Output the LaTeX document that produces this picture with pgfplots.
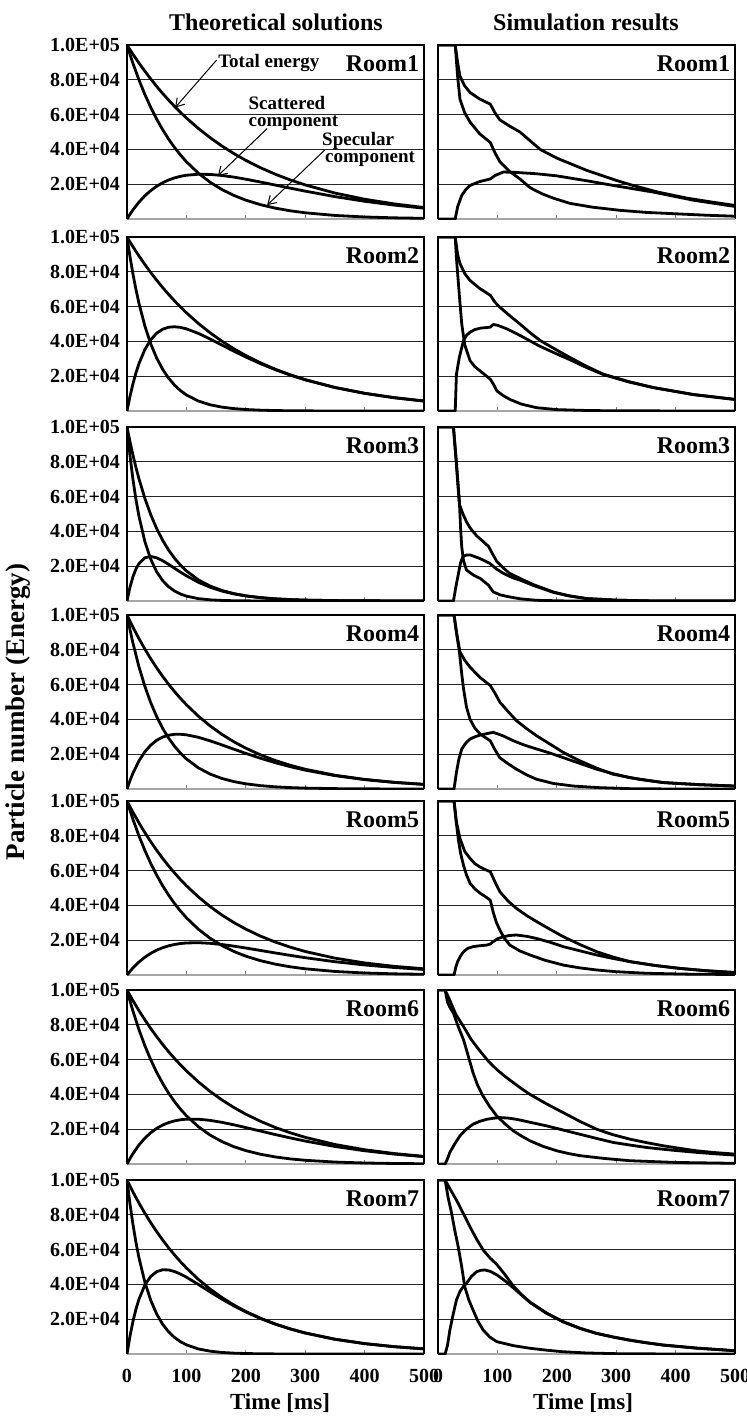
\documentclass[border=0pt]{standalone}
\usepackage{fontspec}
\setmainfont{Liberation Serif}
\usepackage{pgfplots}
\pgfplotsset{compat=1.18}
\usepackage{pgfplotstable}
\usetikzlibrary{arrows.meta}

% Theoretical solutions: t, total, specular, scattered
\pgfplotstableread{
t tot spe sca
0 100000 100000 0
5 97320 94600 2720
10 94710 89480 5230
20 89700 80070 9630
30 84960 71650 13310
40 80460 64120 16340
50 76210 57380 18830
60 72170 51340 20830
70 68360 45940 22420
80 64740 41110 23630
90 61320 36790 24530
100 58070 32920 25150
120 52090 26360 25730
140 46730 21110 25620
160 41910 16900 25010
180 37600 13530 24070
200 33720 10840 22880
225 29440 8210 21230
250 25700 6220 19480
275 22440 4710 17730
300 19590 3570 16020
350 14920 2050 12870
400 11370 1170 10200
450 8670 670 8000
500 6600 390 6210
}\thA
\pgfplotstableread{
t tot spe sca
0 100000 100000 0
5 97180 88780 8400
10 94450 78810 15640
15 91790 69970 21820
20 89200 62110 27090
30 84250 48950 35300
40 79570 38580 40990
50 75150 30410 44740
60 70970 23970 47000
70 67030 18890 48140
80 63310 14890 48420
90 59790 11730 48060
100 56470 9250 47220
120 50370 5740 44630
140 44930 3570 41360
160 40080 2220 37860
180 35750 1380 34370
200 31890 860 31030
225 27650 470 27180
250 23970 260 23710
275 20780 140 20640
300 18010 80 17930
350 13530 20 13510
400 10170 10 10160
450 7640 0 7640
500 5740 0 5740
}\thB
\pgfplotstableread{
t tot spe sca
0 100000 100000 0
5 91600 83650 7950
10 83910 69970 13940
15 76860 58520 18340
20 70410 48950 21460
30 59080 34250 24830
40 49570 23970 25600
50 41590 16770 24820
60 34900 11730 23170
70 29290 8210 21080
80 24570 5740 18830
90 20620 4020 16600
100 17300 2810 14490
120 12180 1380 10800
140 8580 670 7910
160 6040 330 5710
180 4250 160 4090
200 2990 80 2910
225 1930 30 1900
250 1250 10 1240
275 800 0 800
300 520 0 520
350 220 0 220
400 90 0 90
450 40 0 40
500 20 0 20
}\thC
\pgfplotstableread{
t tot spe sca
0 100000 100000 0
5 96440 91600 4840
10 93010 83910 9100
20 86510 70410 16100
30 80460 59080 21380
40 74830 49570 25260
50 69600 41590 28010
60 64740 34900 29840
70 60210 29290 30920
80 56010 24570 31440
90 52090 20620 31470
100 48450 17300 31150
120 41910 12180 29730
140 36260 8580 27680
160 31360 6040 25320
180 27130 4250 22880
200 23470 2990 20480
225 19590 1930 17660
250 16340 1250 15090
275 13630 800 12830
300 11370 520 10850
350 7920 220 7700
400 5510 90 5420
450 3840 40 3800
500 2670 20 2650
}\thD
\pgfplotstableread{
t tot spe sca
0 100000 100000 0
5 96720 94600 2120
10 93550 89480 4070
20 87520 80070 7450
30 81870 71650 10220
40 76590 64120 12470
50 71650 57380 14270
60 67030 51340 15690
70 62710 45940 16770
80 58660 41110 17550
90 54880 36790 18090
100 51340 32920 18420
120 44930 26360 18570
140 39320 21110 18210
160 34420 16900 17520
180 30120 13530 16590
200 26360 10840 15520
225 22310 8210 14100
250 18890 6220 12670
275 15990 4710 11280
300 13530 3570 9960
350 9700 2050 7650
400 6950 1170 5780
450 4980 670 4310
500 3570 390 3180
}\thE
\pgfplotstableread{
t tot spe sca
0 100000 100000 0
5 96920 93790 3130
10 93940 87970 5970
20 88250 77380 10870
30 82900 68070 14830
40 77880 59880 18000
50 73160 52680 20480
60 68730 46340 22390
70 64560 40760 23800
80 60650 35860 24790
90 56980 31540 25440
100 53530 27750 25780
120 47240 21470 25770
140 41690 16610 25080
160 36790 12860 23930
180 32470 9950 22520
200 28650 7700 20950
225 24510 5590 18920
250 20960 4050 16910
275 17930 2940 14990
300 15340 2140 13200
350 11220 1130 10090
400 8210 590 7620
450 6010 310 5700
500 4390 160 4230
}\thF
\pgfplotstableread{
t tot spe sca
0 100000 100000 0
5 96540 86320 10220
10 93200 74520 18680
15 89980 64330 25650
20 86860 55530 31330
30 80960 41380 39580
40 75450 30830 44620
50 70320 22980 47340
60 65540 17120 48420
70 61080 12760 48320
80 56930 9510 47420
90 53060 7090 45970
100 49450 5280 44170
120 42950 2930 40020
140 37310 1630 35680
160 32410 900 31510
180 28150 500 27650
200 24450 280 24170
225 20500 130 20370
250 17200 60 17140
275 14420 30 14390
300 12090 10 12080
350 8500 0 8500
400 5980 0 5980
450 4210 0 4210
500 2960 0 2960
}\thG

\pgfplotsset{
  panel/.style={
    scale only axis, width=148.5pt, height=87pt, anchor=north west,
    xmin=0, xmax=500, ymin=0, ymax=100000,
    axis line style={draw=none},
    clip mode=individual,
    xtick={0,100,200,300,400,500}, xtick pos=bottom, xtick align=inside,
    major tick length=2pt,
    x tick style={gray, line width=0.6pt},
    ytick={20000,40000,60000,80000,100000}, ytick pos=left,
    y tick style={draw=none},
    ymajorgrids, grid style={black!85, line width=0.45pt},
    xticklabels={}, yticklabels={},
    tick label style={font=\fontsize{10}{12}\selectfont\bfseries},
    scaled y ticks=false,
    every axis plot post/.append style={black,line width=1.4pt,line join=round,mark=none},
  },
  leftcol/.style={yticklabels={2.0E+04,4.0E+04,6.0E+04,8.0E+04,1.0E+05}},
  bottomrow/.style={xticklabels={0,100,200,300,400,500},
    xticklabel style={anchor=center, yshift=-11pt}},
}
\newcommand\frm{%
  \draw[black,line width=1.2pt] (rel axis cs:0,0)--(rel axis cs:0,1)--(rel axis cs:1,1)--(rel axis cs:1,0);
  \draw[gray!70,line width=1.2pt] (rel axis cs:0,0)--(rel axis cs:1,0);}
\newcommand\room[1]{\node[anchor=east,inner sep=0pt,font=\fontsize{12}{14}\selectfont\bfseries] at (rel axis cs:0.985,0.895) {#1};}
\newcommand\theo[1]{%
  \addplot table[x=t,y=tot]{#1};
  \addplot table[x=t,y=spe]{#1};
  \addplot table[x=t,y=sca]{#1};}

\begin{document}
\begin{tikzpicture}
\useasboundingbox (0,0) rectangle (373.5pt,-710pt);

% ---------- Row 1
\begin{axis}[panel,leftcol,at={(63.5pt,-22.5pt)}]
\frm
\theo{\thA}
\room{Room1}
\begin{scope}[font=\fontsize{9.5}{11}\selectfont\bfseries]
\node[anchor=west,inner sep=0pt] at (axis cs:153,89700) {Total energy};
\node[anchor=west,inner sep=0pt] at (axis cs:204,66500) {Scattered};
\node[anchor=west,inner sep=0pt] at (axis cs:204,55000) {component};
\node[anchor=west,inner sep=0pt] at (axis cs:328,45000) {Specular};
\node[anchor=west,inner sep=0pt] at (axis cs:333,34600) {component};
\end{scope}
\draw[-{Straight Barb[length=4pt,width=5pt]},line width=0.5pt] (axis cs:151,91400) -- (axis cs:81,64000);
\draw[-{Straight Barb[length=4pt,width=5pt]},line width=0.5pt] (axis cs:236,52000) -- (axis cs:153,24800);
\draw[-{Straight Barb[length=4pt,width=5pt]},line width=0.5pt] (axis cs:333,39700) -- (axis cs:236,8000);
\end{axis}
\begin{axis}[panel,at={(219pt,-22.5pt)}]
\frm
\addplot coordinates {(0,100000)(29,100000)(33,90000)(37,82000)(45,76500)(54,72700)(70,69000)(88,66000)(96,61000)(104,57000)(120,53500)(138,50000)(155,45000)(172,40000)(200,35000)(250,28000)(300,22200)(328,19300)(370,15500)(419,12000)(460,9800)(500,7800)};
\addplot coordinates {(0,100000)(29,100000)(33,82000)(37,68800)(45,61000)(54,55700)(70,49000)(88,44000)(96,38000)(104,33000)(120,27500)(138,23000)(155,18000)(175,14500)(194,12000)(222,9000)(260,6800)(306,5000)(350,3800)(400,3000)(450,2200)(500,1600)};
\addplot coordinates {(0,0)(29,0)(33,7000)(40,13600)(47,17000)(54,19300)(70,21500)(88,23000)(96,25000)(110,27000)(130,26800)(166,26000)(200,24800)(250,22000)(300,19000)(362,15500)(430,10800)(500,7200)};
\room{Room1}
\end{axis}

% ---------- Row 2
\begin{axis}[panel,leftcol,at={(63.5pt,-118.5pt)}]
\frm
\theo{\thB}
\room{Room2}
\end{axis}
\begin{axis}[panel,at={(219pt,-118.5pt)}]
\frm
\addplot coordinates {(0,100000)(29,100000)(33,90000)(37,84800)(45,79000)(54,75000)(70,70500)(88,66500)(96,62500)(104,59700)(120,55000)(138,50000)(155,45000)(172,40500)(200,35000)(222,30800)(250,25700)(278,21200)(320,17000)(362,13500)(430,9500)(500,6700)};
\addplot coordinates {(0,100000)(29,100000)(31,88000)(34,75000)(37,62000)(40,50000)(45,38000)(54,28900)(62,25500)(71,23000)(80,20500)(88,18300)(94,15000)(99,11600)(110,8800)(121,6700)(140,4000)(166,1900)(200,800)(250,300)(300,100)(500,0)};
\addplot coordinates {(0,0)(29,0)(31,21000)(36,31000)(43,40500)(48,43500)(54,45300)(62,46800)(71,47600)(88,48200)(93,49700)(100,49300)(116,47200)(132,44500)(149,41400)(170,37500)(194,33700)(222,29500)(250,25000)(278,21000)(320,16800)(362,13500)(430,9400)(500,6600)};
\room{Room2}
\end{axis}

% ---------- Row 3
\begin{axis}[panel,leftcol,at={(63.5pt,-213.5pt)}]
\frm
\theo{\thC}
\room{Room3}
\end{axis}
\begin{axis}[panel,at={(219pt,-213.5pt)}]
\frm
\addplot coordinates {(0,100000)(26,100000)(31,78000)(36,55600)(42,50000)(48,45500)(54,42000)(65,37500)(75,34500)(85,31400)(92,27000)(99,22700)(110,19000)(120,16000)(138,13000)(160,9500)(194,5200)(220,3000)(250,1400)(300,500)(362,0)(500,0)};
\addplot coordinates {(0,100000)(26,100000)(31,80000)(36,57000)(38,42000)(40,31000)(43,23000)(48,17800)(60,14800)(71,13000)(85,9100)(93,5200)(105,3500)(121,2300)(140,1200)(166,400)(220,0)(500,0)};
\addplot coordinates {(0,0)(26,0)(30,8000)(34,15000)(38,22000)(42,25600)(48,26500)(54,26500)(70,24500)(87,21700)(98,18500)(110,15900)(125,13500)(138,12000)(160,9000)(194,5000)(220,3000)(250,1400)(300,500)(362,0)(500,0)};
\room{Room3}
\end{axis}

% ---------- Row 4
\begin{axis}[panel,leftcol,at={(63.5pt,-307.5pt)}]
\frm
\theo{\thD}
\room{Room4}
\end{axis}
\begin{axis}[panel,at={(219pt,-307.5pt)}]
\frm
\addplot coordinates {(0,100000)(27,100000)(31,90000)(37,78800)(45,74000)(54,70000)(71,64000)(88,59500)(96,55000)(104,50000)(118,44500)(132,39300)(150,34500)(166,30600)(190,25500)(211,21000)(239,16200)(267,12000)(295,8500)(340,5500)(379,3700)(440,2500)(500,1700)};
\addplot coordinates {(0,100000)(27,100000)(32,88000)(36,79000)(40,66000)(43,57600)(48,47000)(54,40000)(62,35000)(71,31600)(80,29500)(88,27700)(96,22500)(104,18000)(118,14500)(132,11400)(150,8000)(166,5600)(194,3200)(228,1700)(270,800)(323,200)(400,0)(500,0)};
\addplot coordinates {(0,0)(27,0)(31,9400)(35,17000)(40,23000)(47,26500)(54,28700)(62,30000)(71,31000)(82,31800)(93,32600)(110,30500)(127,27700)(145,25300)(166,23000)(190,20500)(211,18000)(239,14700)(267,11400)(295,8800)(323,6500)(379,3700)(440,2500)(500,1700)};
\room{Room4}
\end{axis}

% ---------- Row 5
\begin{axis}[panel,leftcol,at={(63.5pt,-400.5pt)}]
\frm
\theo{\thE}
\room{Room5}
\end{axis}
\begin{axis}[panel,at={(219pt,-400.5pt)}]
\frm
\addplot coordinates {(0,100000)(27,100000)(31,88000)(37,78500)(45,71000)(54,67000)(62,64000)(71,62000)(80,60500)(88,59400)(96,53500)(104,47900)(118,42500)(132,38300)(150,34000)(166,30700)(190,26000)(211,22000)(239,17500)(267,13400)(295,10300)(323,7700)(365,5500)(407,3800)(450,2500)(500,1300)};
\addplot coordinates {(0,100000)(27,100000)(30,90000)(34,78500)(38,70000)(43,63000)(48,57500)(54,52700)(62,49500)(71,47000)(80,45000)(88,43000)(93,36000)(98,30500)(104,25900)(112,21000)(121,17200)(138,13800)(155,11500)(180,8500)(211,5700)(239,4100)(267,2900)(300,1900)(351,1000)(420,500)(500,300)};
\addplot coordinates {(0,0)(27,0)(30,4500)(33,7700)(38,11000)(43,13400)(50,15300)(59,16300)(70,16800)(82,17200)(88,17800)(93,19200)(100,20800)(110,22000)(120,22700)(132,23000)(150,22200)(166,21000)(190,18700)(211,16300)(239,13900)(267,11500)(295,9500)(323,7700)(365,5500)(407,3800)(450,2500)(500,1500)};
\room{Room5}
\end{axis}

% ---------- Row 6
\begin{axis}[panel,leftcol,at={(63.5pt,-495pt)}]
\frm
\theo{\thF}
\room{Room6}
\end{axis}
\begin{axis}[panel,at={(219pt,-495pt)}]
\frm
\addplot coordinates {(0,100000)(12,100000)(16,97000)(20,94000)(30,86000)(43,79000)(56,71500)(71,64800)(85,59000)(99,54300)(113,50300)(127,46700)(141,43200)(155,40000)(183,34500)(211,29500)(239,24500)(267,20000)(295,16800)(323,14300)(351,12300)(379,10500)(407,9000)(435,7600)(465,6600)(500,5700)};
\addplot coordinates {(0,100000)(12,100000)(16,93000)(20,90000)(26,86700)(34,79000)(43,71400)(51,62000)(59,52400)(67,45000)(76,39000)(87,33000)(99,27600)(113,23000)(127,19000)(141,16000)(155,13300)(178,10000)(200,7600)(220,6000)(239,4800)(280,3200)(323,1900)(400,900)(500,400)};
\addplot coordinates {(0,0)(12,0)(16,3000)(20,6700)(28,11500)(37,16200)(47,19800)(59,22900)(70,24500)(82,25700)(93,26300)(104,26700)(118,26400)(132,25700)(155,24000)(183,21900)(211,19500)(239,17100)(267,14700)(295,12400)(323,10900)(351,9500)(393,8000)(435,6700)(465,5900)(500,5100)};
\room{Room6}
\end{axis}

% ---------- Row 7
\begin{axis}[panel,leftcol,bottomrow,at={(63.5pt,-590pt)}]
\frm
\theo{\thG}
\room{Room7}
\end{axis}
\begin{axis}[panel,bottomrow,at={(219pt,-590pt)}]
\frm
\addplot coordinates {(0,100000)(12,100000)(20,95000)(31,88500)(43,80500)(54,73000)(65,66000)(76,59800)(88,55000)(99,51500)(113,45500)(127,39000)(141,34000)(155,29800)(183,23500)(211,18600)(239,14800)(267,11900)(295,9800)(323,8000)(351,6500)(379,5200)(435,3400)(500,1900)};
\addplot coordinates {(0,100000)(12,100000)(17,90000)(23,80800)(28,71500)(34,61700)(40,50000)(45,38700)(52,31000)(59,25300)(67,19000)(76,13800)(87,9800)(99,7100)(127,4800)(155,3300)(183,2200)(211,1300)(250,600)(300,200)(400,0)(500,0)};
\addplot coordinates {(0,0)(12,0)(16,5000)(20,13800)(25,22000)(31,31000)(37,36000)(43,39000)(48,40600)(56,44500)(65,47300)(72,48100)(79,48300)(88,47500)(99,45500)(113,42000)(127,38000)(141,33800)(155,29600)(183,23300)(211,18400)(239,14700)(267,11800)(295,9700)(323,7900)(351,6400)(379,5100)(435,3400)(500,1900)};
\room{Room7}
\end{axis}

% ---------- Titles and labels
\node[font=\fontsize{12}{14}\selectfont\bfseries] at (138pt,-11pt) {Theoretical solutions};
\node[font=\fontsize{12}{14}\selectfont\bfseries] at (293pt,-11pt) {Simulation results};
\node[font=\fontsize{11.5}{14}\selectfont\bfseries] at (140pt,-701.5pt) {Time [ms]};
\node[font=\fontsize{11.5}{14}\selectfont\bfseries] at (291.5pt,-701.5pt) {Time [ms]};
\node[font=\fontsize{13.5}{15}\selectfont\bfseries,rotate=90] at (9pt,-356pt) {Particle number (Energy)};
\end{tikzpicture}
\end{document}
